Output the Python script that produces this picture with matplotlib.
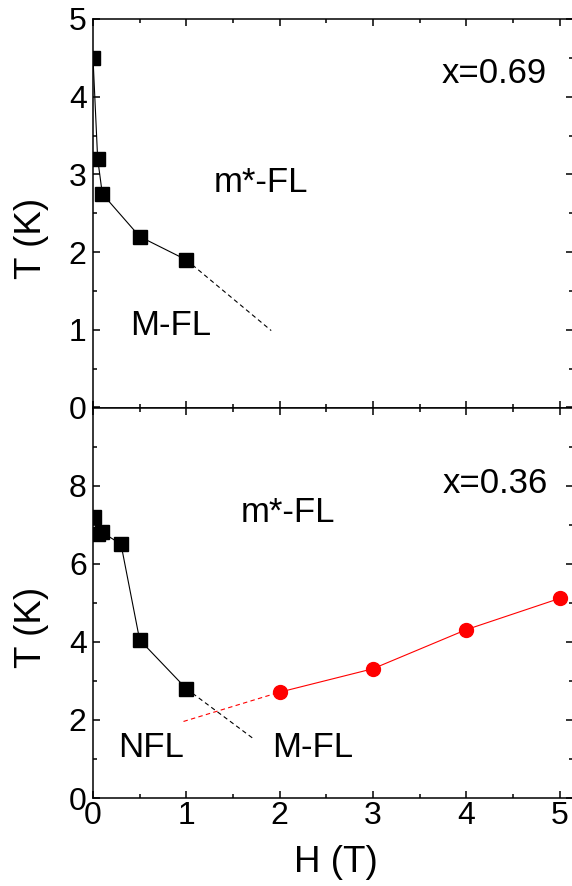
import matplotlib
matplotlib.use("Agg")
import matplotlib.pyplot as plt
from matplotlib.ticker import MultipleLocator, FixedLocator

plt.rcParams['font.family'] = ['Liberation Sans', 'DejaVu Sans']

# x = 0.69 sample: crossover field vs temperature
h_069 = [0.0, 0.05, 0.1, 0.5, 1.0]
t_069 = [4.5, 3.2, 2.75, 2.2, 1.9]
h_069_ext = [1.0, 1.91]
t_069_ext = [1.9, 0.99]

# x = 0.36 sample
h_036 = [0.01, 0.05, 0.1, 0.3, 0.5, 1.0]
t_036 = [7.2, 6.75, 6.8, 6.5, 4.05, 2.8]
h_036_ext = [1.0, 1.73]
t_036_ext = [2.8, 1.5]
h_036_red = [2.0, 3.0, 4.0, 5.0]
t_036_red = [2.71, 3.31, 4.31, 5.11]
h_036_red_ext = [0.97, 2.0]
t_036_red_ext = [1.96, 2.71]

W, H = 572, 886
fig = plt.figure(figsize=(W / 100, H / 100), dpi=100)

left = 93 / W
width = 480.5 / W
y_top, y_mid, y_bot = 19, 407.5, 798
ax1 = fig.add_axes([left, 1 - y_mid / H, width, (y_mid - y_top) / H])
ax2 = fig.add_axes([left, 1 - y_bot / H, width, (y_bot - y_mid) / H])

tick_fs = 23
text_fs = 25
label_fs = 26.5
lw_axis = 1.1

for ax in (ax1, ax2):
    ax.set_xlim(0, 5.15)
    ax.xaxis.set_major_locator(MultipleLocator(1))
    ax.xaxis.set_minor_locator(MultipleLocator(0.5))
    ax.tick_params(which='both', direction='in', top=True, right=True,
                   width=lw_axis, labelsize=tick_fs)
    ax.tick_params(which='major', length=5.2)
    ax.tick_params(which='minor', length=3)
    ax.tick_params(axis='y', which='major', pad=4.5)
    ax.tick_params(axis='x', which='major', pad=2.5)
    for s in ax.spines.values():
        s.set_linewidth(lw_axis)

# top panel
ax1.set_ylim(0, 5)
ax1.yaxis.set_major_locator(MultipleLocator(1))
ax1.yaxis.set_minor_locator(MultipleLocator(0.5))
ax1.tick_params(axis='x', labelbottom=False)
ax1.plot(h_069, t_069, color='black', lw=0.8, marker='s', ms=9.5,
         mec='black', mfc='black')
ax1.plot(h_069_ext, t_069_ext, color='black', lw=0.8, ls=(0, (4, 3)))
ax1.text(3.74, 4.18, 'x=0.69', fontsize=text_fs, va='baseline')
ax1.text(1.29, 2.77, 'm*-FL', fontsize=text_fs, va='baseline')
ax1.text(0.40, 0.93, 'M-FL', fontsize=text_fs, va='baseline')
ax1.set_ylabel('T (K)', fontsize=label_fs, ha='center', va='center')
ax1.yaxis.set_label_coords(-0.129, 0.436)

# bottom panel
ax2.set_ylim(0, 10)
ax2.yaxis.set_major_locator(FixedLocator([0, 2, 4, 6, 8, 10]))
ax2.yaxis.set_minor_locator(FixedLocator([1, 3, 5, 7, 9]))
ax2.set_yticklabels(['0', '2', '4', '6', '8', ''])
ax2.plot(h_036, t_036, color='black', lw=0.8, marker='s', ms=9.5,
         mec='black', mfc='black')
ax2.plot(h_036_ext, t_036_ext, color='black', lw=0.8, ls=(0, (4, 3)))
ax2.plot(h_036_red_ext, t_036_red_ext, color='#ff0000', lw=0.8, ls=(0, (4, 3)))
ax2.plot(h_036_red, t_036_red, color='#ff0000', lw=0.8, marker='o', ms=10,
         mec='#ff0000', mfc='#ff0000')
ax2.text(3.75, 7.82, 'x=0.36', fontsize=text_fs, va='baseline')
ax2.text(1.58, 7.08, 'm*-FL', fontsize=text_fs, va='baseline')
ax2.text(0.27, 1.06, 'NFL', fontsize=text_fs, va='baseline')
ax2.text(1.92, 1.06, 'M-FL', fontsize=text_fs, va='baseline')
ax2.set_ylabel('T (K)', fontsize=label_fs, ha='center', va='center')
ax2.yaxis.set_label_coords(-0.129, 0.438)
ax2.set_xlabel('H (T)', fontsize=label_fs, ha='center', va='center')
ax2.xaxis.set_label_coords(0.506, -0.164)

fig.savefig('out.png', dpi=100)
